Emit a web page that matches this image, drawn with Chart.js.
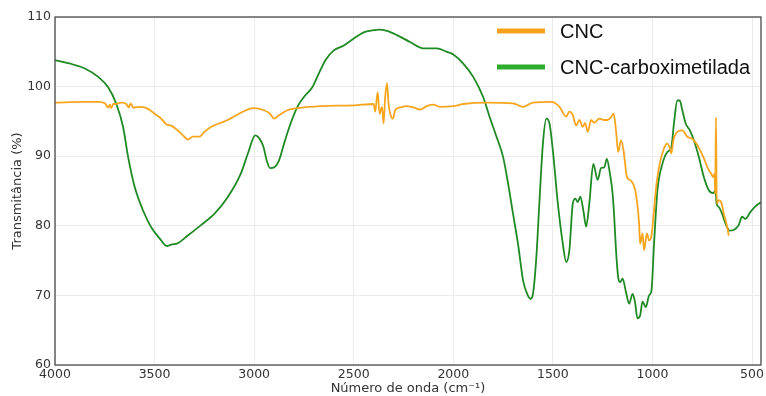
<!DOCTYPE html>
<html>
<head>
<meta charset="utf-8">
<script src="https://cdn.jsdelivr.net/npm/chart.js@4.4.1/dist/chart.umd.min.js"></script>
<style>
  html, body { margin: 0; padding: 0; background: #fff; }
  #wrap { width: 766px; height: 396px; }
</style>
</head>
<body>
<div id="wrap"><canvas id="ftir"></canvas></div>
<script>
// Axis ticks
const xTicks = [4000, 3500, 3000, 2500, 2000, 1500, 1000, 500];
const yTicks = [60, 70, 80, 90, 100, 110];

// CNC spectrum (wavenumber, transmittance)
const cncWave = [4000, 3850, 3783, 3750, 3733, 3725, 3717, 3708, 3700, 3667, 3642, 3630, 3620, 3608, 3600,
  3567, 3533, 3500, 3467, 3442, 3417, 3383, 3350, 3333, 3308, 3275, 3250, 3217, 3167, 3133, 3083, 3033, 3000,
  2950, 2920, 2900, 2875, 2833, 2783, 2667, 2500, 2400, 2392, 2380, 2370, 2358, 2350, 2342, 2333, 2325, 2317,
  2303, 2292, 2267, 2233, 2200, 2167, 2133, 2100, 2067, 2000, 1950, 1833, 1700, 1650, 1600, 1508, 1467, 1433,
  1417, 1400, 1383, 1367, 1350, 1338, 1325, 1308, 1292, 1267, 1242, 1225, 1208, 1195, 1183, 1172, 1158, 1145,
  1128, 1108, 1083, 1067, 1062, 1050, 1042, 1028, 1017, 1005, 995, 983, 967, 942, 925, 912, 905, 895, 875,
  850, 825, 800, 775, 745, 717, 705, 695, 688, 685, 681, 677, 667, 655, 638, 625, 617];
const cncTrans = [97.7, 97.8, 97.8, 97.6, 97.0, 97.4, 96.9, 97.5, 97.5, 97.7, 97.5, 97.0, 97.6, 97.0, 97.0,
  97.1, 96.8, 96.1, 95.4, 94.6, 94.4, 93.7, 92.8, 92.4, 92.8, 92.8, 93.5, 94.2, 94.8, 95.2, 96.0, 96.7, 96.9,
  96.6, 96.1, 95.4, 95.9, 96.6, 96.9, 97.2, 97.3, 97.5, 96.4, 99.2, 96.1, 97.1, 94.7, 98.5, 100.5, 97.5, 96.1,
  95.4, 96.6, 97.0, 97.2, 97.0, 96.7, 97.2, 97.4, 97.1, 97.2, 97.5, 97.7, 97.6, 97.1, 97.7, 97.8, 97.1, 95.7,
  96.4, 95.9, 94.4, 95.2, 94.2, 94.8, 93.5, 95.2, 94.8, 95.4, 95.2, 95.2, 95.6, 96.1, 93.7, 90.6, 92.3, 90.8,
  87.0, 86.5, 84.6, 80.3, 77.4, 78.9, 76.5, 78.9, 77.9, 78.6, 81.3, 85.1, 88.4, 91.1, 91.8, 91.1, 90.4, 92.3, 93.5,
  93.7, 92.8, 92.5, 91.6, 89.9, 88.0, 87.5, 87.0, 87.5, 84.6, 95.6, 83.2, 83.7, 83.4, 81.3, 79.9, 78.6];

// CNC-carboximetilada spectrum
const cmcWave = [4000, 3900, 3850, 3783, 3733, 3692, 3658, 3633, 3600, 3558, 3517, 3475, 3438, 3417, 3383,
  3333, 3267, 3200, 3133, 3067, 3030, 2995, 2975, 2955, 2935, 2920, 2900, 2875, 2850, 2817, 2783, 2750, 2708,
  2675, 2642, 2600, 2550, 2500, 2450, 2400, 2375, 2333, 2283, 2217, 2150, 2083, 2033, 2000, 1950, 1900, 1850,
  1817, 1783, 1750, 1725, 1700, 1675, 1650, 1633, 1613, 1600, 1583, 1567, 1550, 1533, 1517, 1500, 1475, 1450,
  1433, 1417, 1400, 1387, 1375, 1362, 1347, 1333, 1317, 1297, 1275, 1258, 1242, 1229, 1214, 1200, 1192, 1183,
  1172, 1162, 1150, 1133, 1117, 1100, 1088, 1075, 1062, 1050, 1033, 1017, 1005, 992, 975, 950, 925, 905, 892,
  875, 863, 850, 833, 812, 792, 767, 742, 717, 695, 683, 678, 667, 650, 633, 612, 592, 567, 550, 533, 508, 483, 455];
const cmcTrans = [103.8, 103.1, 102.6, 101.4, 99.9, 97.5, 94.2, 89.9, 85.6, 82.2, 79.8, 78.2, 77.1, 77.3, 77.5,
  78.6, 80.1, 81.7, 84.1, 87.5, 90.5, 93.0, 92.6, 91.5, 89.2, 88.3, 88.4, 89.4, 91.8, 94.7, 97.1, 98.5, 99.9,
  101.9, 103.8, 105.2, 105.9, 106.9, 107.8, 108.1, 108.2, 108.0, 107.4, 106.4, 105.5, 105.5, 105.0, 104.6, 103.3, 101.4, 98.5,
  95.6, 92.8, 89.9, 86.1, 81.7, 77.4, 72.2, 70.5, 69.5, 70.2, 75.5, 83.7, 91.8, 95.4, 94.7, 90.8, 83.2, 77.4,
  74.8, 76.5, 83.2, 83.9, 83.4, 84.2, 82.2, 79.9, 83.2, 88.9, 86.6, 88.3, 88.4, 89.6, 87.6, 84.6, 81.3, 76.5,
  72.6, 71.9, 72.4, 70.5, 68.8, 70.2, 69.1, 66.7, 67.1, 69.1, 68.3, 70.0, 70.7, 77.4, 85.1, 88.9, 90.6, 91.3, 94.7,
  98.0, 98.0, 96.6, 94.7, 93.7, 92.3, 89.9, 87.0, 85.1, 84.7, 85.1, 83.2, 82.7, 81.7, 80.3, 79.3, 79.4, 80.1, 81.3, 81.0, 82.0, 82.8, 83.4];

const toPoints = (xs, ys) => xs.map((x, i) => ({ x: x, y: ys[i] }));

const tickFont = { family: 'DejaVu Sans', size: 12.5 };
const titleFont = { family: 'DejaVu Sans', size: 13 };

// Frame around the plot area
const framePlugin = {
  id: 'frame',
  afterDatasetsDraw(chart) {
    const { ctx, chartArea: a } = chart;
    ctx.save();
    ctx.strokeStyle = '#4a4a4a';
    ctx.lineWidth = 1.3;
    ctx.strokeRect(a.left, a.top, a.right - a.left, a.bottom - a.top);
    ctx.restore();
  }
};

// Legend drawn inside the plot, top right
const legendPlugin = {
  id: 'innerLegend',
  afterDraw(chart) {
    const { ctx } = chart;
    const swatch = ['#f7a11e', '#2eac2e'];
    ctx.save();
    ctx.font = '20px "Liberation Sans", Arial, sans-serif';
    ctx.textBaseline = 'middle';
    chart.data.datasets.forEach((ds, i) => {
      const y = 31 + i * 36;
      ctx.strokeStyle = swatch[i];
      ctx.lineWidth = 5;
      ctx.beginPath();
      ctx.moveTo(497, y);
      ctx.lineTo(545, y);
      ctx.stroke();
      ctx.fillStyle = '#111';
      ctx.fillText(ds.label, 560, y + 1);
    });
    ctx.restore();
  }
};

new Chart(document.getElementById('ftir').getContext('2d'), {
  type: 'line',
  data: {
    datasets: [
      {
        label: 'CNC',
        data: toPoints(cncWave, cncTrans),
        borderColor: '#f7a51c',
        borderWidth: 1.8,
        pointRadius: 0,
        cubicInterpolationMode: 'monotone'
      },
      {
        label: 'CNC-carboximetilada',
        data: toPoints(cmcWave, cmcTrans),
        borderColor: '#1f8a24',
        borderWidth: 1.8,
        pointRadius: 0,
        cubicInterpolationMode: 'monotone'
      }
    ]
  },
  plugins: [framePlugin, legendPlugin],
  options: {
    responsive: true,
    maintainAspectRatio: false,
    animation: false,
    layout: { padding: { top: 17, right: 4, left: 0, bottom: 0 } },
    plugins: {
      legend: { display: false },
      tooltip: { enabled: false }
    },
    scales: {
      x: {
        type: 'linear',
        reverse: true,
        min: 455,
        max: 4000,
        afterBuildTicks: (axis) => { axis.ticks = xTicks.map(v => ({ value: v })); },
        afterFit: (axis) => { axis.height = 31; },
        border: { display: false },
        grid: { color: '#ececec', drawTicks: false },
        ticks: { color: '#333', font: tickFont, padding: 2, maxRotation: 0, callback: (v) => String(v) },
        title: {
          display: true,
          text: 'Número de onda (cm⁻¹)',
          color: '#333',
          font: titleFont,
          padding: { top: 0, bottom: 0 }
        }
      },
      y: {
        min: 60,
        max: 110,
        afterBuildTicks: (axis) => { axis.ticks = yTicks.map(v => ({ value: v })); },
        afterFit: (axis) => { axis.width = 55; },
        border: { display: false },
        grid: { color: '#ececec', drawTicks: false },
        ticks: { color: '#333', font: tickFont, padding: 4, callback: (v) => String(v) },
        title: {
          display: true,
          text: 'Transmitância (%)',
          color: '#333',
          font: titleFont,
          padding: { top: 10, bottom: 0 }
        }
      }
    }
  }
});
</script>
</body>
</html>
